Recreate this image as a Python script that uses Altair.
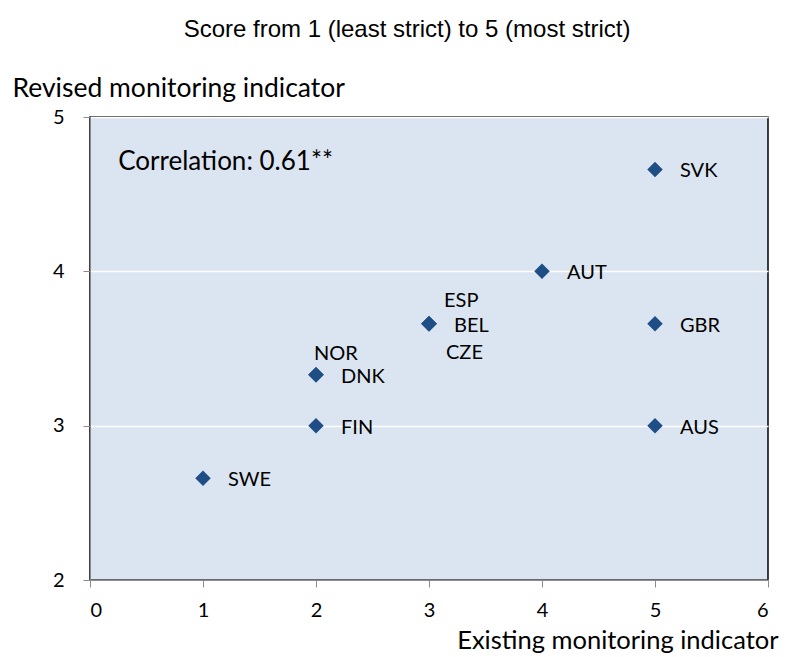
import altair as alt
import pandas as pd

countries = ["SVK", "AUT", "GBR", "ESP", "BEL", "CZE", "NOR", "DNK", "FIN", "AUS", "SWE"]
existing = [5, 4, 5, 3, 3, 3, 2, 2, 2, 5, 1]
revised = [4.66, 4.0, 3.66, 3.66, 3.66, 3.66, 3.33, 3.33, 3.0, 3.0, 2.66]
label_pos = ["right", "right", "right", "above", "right", "below", "aboveleft", "right", "right", "right", "right"]

title_text = "Score from 1 (least strict) to 5 (most strict)"
x_title = "Existing monitoring indicator"
y_title = "Revised monitoring indicator"
corr_text = ["Correlation: 0.61**"]
corr_x = [0.25]
corr_y = [4.71]

df = pd.DataFrame({"country": countries, "existing": existing, "revised": revised, "pos": label_pos})
corr_df = pd.DataFrame({"t": corr_text, "x": corr_x, "y": corr_y})

FONT = "Lato"
BLUE = "#1F4E86"

xs = alt.Scale(domain=[0, 6], nice=False, zero=False)
ys = alt.Scale(domain=[2, 5], nice=False, zero=False)

xenc = alt.X("existing:Q", scale=xs, axis=alt.Axis(
    title=x_title, values=[0, 1, 2, 3, 4, 5, 6], format="d", grid=False, domainColor="#8c8c8c",
    tickColor="#8c8c8c", tickSize=7, labelFont=FONT, labelFontSize=20, labelColor="#000",
    labelPadding=13, titleFont=FONT, titleFontSize=25.5, titleFontWeight="normal", titleColor="#000",
    titleAnchor="end", titleAlign="right", titleX=688, titleY=68, titleBaseline="alphabetic"))
yenc = alt.Y("revised:Q", scale=ys, axis=alt.Axis(
    title=y_title, values=[2, 3, 4, 5], format="d", grid=True, gridColor="white", gridWidth=1.5,
    domainColor="#8c8c8c", tickColor="#8c8c8c", tickSize=7, labelFont=FONT, labelFontSize=20,
    labelColor="#000", labelPadding=19, titleFont=FONT, titleFontSize=26.5, titleFontWeight="normal",
    titleColor="#000", titleAngle=0, titleAlign="left", titleX=-78, titleY=-21,
    titleBaseline="alphabetic"))

base = alt.Chart(df)
points = base.mark_point(shape="diamond", filled=True, size=240, color=BLUE, opacity=1).encode(x=xenc, y=yenc)

def labels(pos, dx, dy):
    return base.transform_filter(alt.datum.pos == pos).mark_text(
        align="left", baseline="middle", font=FONT, fontSize=20, color="#000", dx=dx, dy=dy
    ).encode(x="existing:Q", y="revised:Q", text="country:N")

lab_r = labels("right", 25, 2)
lab_a = labels("above", 15, -23)
lab_b = labels("below", 17, 29)
lab_al = labels("aboveleft", -2, -21)

corr = alt.Chart(corr_df).mark_text(align="left", baseline="middle", font=FONT, fontSize=26, color="#000").encode(
    x="x:Q", y="y:Q", text="t:N")

chart = alt.layer(points, lab_r, lab_a, lab_b, lab_al, corr).properties(
    width=678, height=463,
    autosize=alt.AutoSizeParams(type="none"),
    padding={"left": 82, "top": 109, "right": 14, "bottom": 75},
    background="white",
    title=alt.TitleParams(title_text, font="Liberation Sans", fontSize=24, fontWeight="normal",
                          color="#000", anchor="middle", dx=-22, offset=21, baseline="middle"),
).configure_view(fill="#DBE5F1", stroke="#000", strokeWidth=1.5)

chart.save("out.html", embed_options={"renderer": "svg", "actions": False})
